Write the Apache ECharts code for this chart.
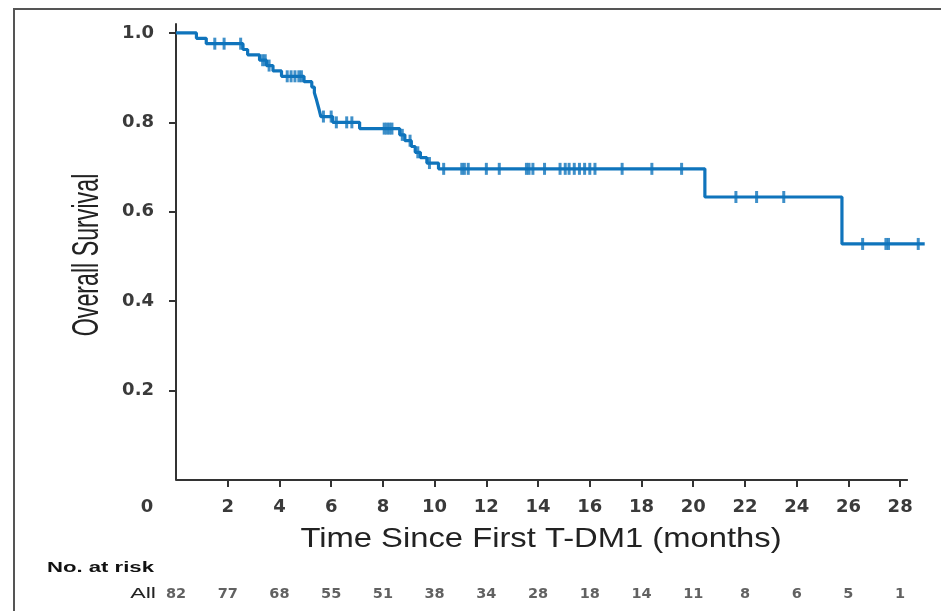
<!DOCTYPE html>
<html>
<head>
<meta charset="utf-8">
<script src="https://cdn.jsdelivr.net/npm/echarts@6/dist/echarts.min.js"></script>
<style>
  html, body { margin: 0; padding: 0; background: #ffffff; }
  #chart { width: 941px; height: 611px; }
</style>
</head>
<body>
<div id="chart"></div>
<script>
// Kaplan-Meier estimate: time of each drop (months) and survival after it
const eventTimes = [0, 0.79, 1.17, 2.59, 2.77, 3.23, 3.5, 3.75, 4.08, 4.95, 5.25, 5.35, 5.42, 5.48, 5.54, 5.6,
  6.06, 7.1, 8.65, 8.85, 9.1, 9.25, 9.45, 9.7, 10.15, 20.45, 25.75];
const survival = [1.0, 0.988, 0.976, 0.963, 0.951, 0.939, 0.927, 0.915, 0.903, 0.891, 0.879, 0.866, 0.853, 0.840, 0.827, 0.813,
  0.800, 0.786, 0.772, 0.759, 0.746, 0.733, 0.721, 0.709, 0.696, 0.633, 0.528];
const lastFollowUp = 28.95;

// Censored observations (months)
const censorTimes = [1.5, 1.86, 2.5, 3.35, 3.45, 3.6, 4.3, 4.45, 4.6, 4.75, 4.85, 5.7, 6.0, 6.2, 6.6, 6.8,
  8.05, 8.15, 8.25, 8.35, 8.75, 9.05, 9.35, 9.8, 10.35, 11.05, 11.15, 11.3, 12.0, 12.5, 13.55, 13.65, 13.8,
  14.25, 14.85, 15.05, 15.2, 15.4, 15.6, 15.8, 16.0, 16.2, 17.25, 18.4, 19.55, 21.65, 22.45, 23.5,
  26.55, 27.45, 27.55, 28.7];

// Axis ticks
const xTicks = [2, 4, 6, 8, 10, 12, 14, 16, 18, 20, 22, 24, 26, 28];
const yTicks = [0.2, 0.4, 0.6, 0.8, 1.0];
const xAxisEnd = 28.3;

// Number at risk table
const riskTimes = [0, 2, 4, 6, 8, 10, 12, 14, 16, 18, 20, 22, 24, 26, 28];
const atRisk = [82, 77, 68, 55, 51, 38, 34, 28, 18, 14, 11, 8, 6, 5, 1];

const curveColor = '#0f74bc';
const axisColor = '#333333';
const labelColor = '#3a3a3a';

function survivalAt(t) {
  let s = survival[0];
  for (let i = 0; i < eventTimes.length; i++) {
    if (eventTimes[i] <= t) s = survival[i];
  }
  return s;
}

const curveData = eventTimes.map((t, i) => [t, survival[i]]);
curveData.push([lastFollowUp, survival[survival.length - 1]]);
const censorData = censorTimes.map(t => [t, survivalAt(t)]);
const riskData = riskTimes.map((t, i) => [t, 0.5, atRisk[i]]);

// plot area spans 0..29 months so the last follow-up fits; the drawn x axis stops at xAxisEnd
const xMax = 29;
const plotLeft = 176, plotWidth = 750;

const chart = echarts.init(document.getElementById('chart'), null, { renderer: 'canvas' });

chart.setOption({
  animation: false,
  backgroundColor: '#ffffff',
  grid: [
    { left: plotLeft, top: 24, width: plotWidth, height: 456 },
    { left: plotLeft, top: 584, width: plotWidth, height: 20 }
  ],
  xAxis: [
    {
      type: 'value', gridIndex: 0, min: 0, max: xMax, interval: 2,
      splitLine: { show: false },
      axisLine: { show: false },
      axisTick: { show: true, customValues: xTicks, length: 7, lineStyle: { color: axisColor, width: 2 } },
      axisLabel: {
        customValues: xTicks, margin: 18,
        fontFamily: 'DejaVu Sans', fontWeight: 'bold', fontSize: 18, color: labelColor
      }
    },
    { type: 'value', gridIndex: 1, min: 0, max: xMax, show: false }
  ],
  yAxis: [
    {
      type: 'value', gridIndex: 0, min: 0, max: 1.02, interval: 0.2,
      splitLine: { show: false },
      axisLine: { show: true, lineStyle: { color: axisColor, width: 2 } },
      axisTick: { show: true, customValues: yTicks, length: 7, lineStyle: { color: axisColor, width: 2 } },
      axisLabel: {
        customValues: yTicks, margin: 22,
        formatter: v => v.toFixed(1),
        fontFamily: 'DejaVu Sans', fontWeight: 'bold', fontSize: 18, color: labelColor
      }
    },
    { type: 'value', gridIndex: 1, min: 0, max: 1, show: false }
  ],
  series: [
    {
      type: 'line', xAxisIndex: 0, yAxisIndex: 0,
      data: curveData, step: 'end', showSymbol: false, z: 3,
      lineStyle: { color: curveColor, width: 3.2 },
      markLine: {
        silent: true, symbol: 'none', animation: false,
        label: { show: false },
        lineStyle: { color: axisColor, width: 2, type: 'solid' },
        data: [[{ coord: [0, 0] }, { coord: [xAxisEnd, 0] }]]
      }
    },
    {
      type: 'scatter', xAxisIndex: 0, yAxisIndex: 0, z: 4,
      data: censorData,
      symbol: 'rect', symbolSize: [3, 12],
      itemStyle: { color: curveColor }
    },
    {
      type: 'scatter', xAxisIndex: 1, yAxisIndex: 1,
      data: riskData, symbolSize: 1,
      itemStyle: { color: 'rgba(0,0,0,0)' },
      label: {
        show: true, position: 'inside',
        formatter: p => String(p.value[2]),
        fontFamily: 'DejaVu Sans', fontWeight: 'bold', fontSize: 14.5, color: labelColor
      }
    }
  ],
  graphic: [
    {
      type: 'rect', silent: true,
      shape: { x: 14, y: 9, width: 1000, height: 700 },
      style: { fill: 'none', stroke: '#555555', lineWidth: 2 }
    },
    {
      type: 'text', x: 147, y: 507,
      style: { text: '0', fontFamily: 'DejaVu Sans', fontWeight: 'bold', fontSize: 18, fill: labelColor, align: 'center', verticalAlign: 'middle' }
    },
    {
      type: 'text', x: 541, y: 539, scaleX: 1.17,
      style: { text: 'Time Since First T-DM1 (months)', fontFamily: 'Liberation Sans', fontSize: 28, fill: '#222222', align: 'center', verticalAlign: 'middle' }
    },
    {
      type: 'text', x: 88, y: 255, rotation: Math.PI / 2, scaleX: 0.86, scaleY: 1.35,
      style: { text: 'Overall Survival', fontFamily: 'Liberation Sans', fontSize: 27, fill: '#222222', align: 'center', verticalAlign: 'middle' }
    },
    {
      type: 'text', x: 47, y: 568, scaleX: 1.58,
      style: { text: 'No. at risk', fontFamily: 'Liberation Sans', fontWeight: 'bold', fontSize: 14, fill: '#111111', align: 'left', verticalAlign: 'middle' }
    },
    {
      type: 'text', x: 156, y: 594, scaleX: 1.55,
      style: { text: 'All', fontFamily: 'Liberation Sans', fontSize: 15, fill: '#222222', align: 'right', verticalAlign: 'middle' }
    }
  ]
});
</script>
</body>
</html>
